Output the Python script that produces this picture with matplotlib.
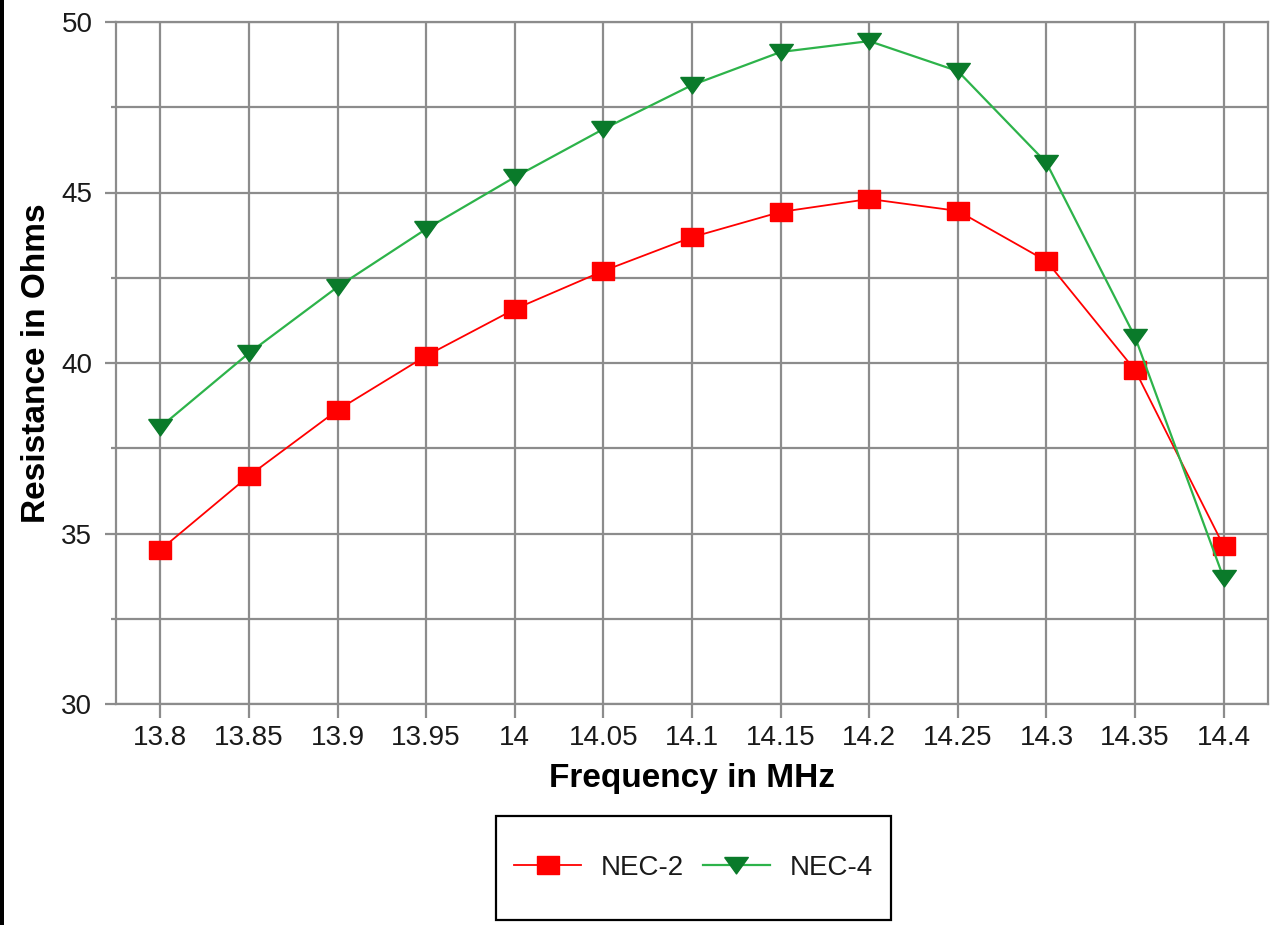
import matplotlib
matplotlib.use("Agg")
import matplotlib.pyplot as plt
from matplotlib.patches import Rectangle
from matplotlib.ticker import MultipleLocator, FixedLocator, NullFormatter

categories = ["13.8", "13.85", "13.9", "13.95", "14", "14.05", "14.1",
              "14.15", "14.2", "14.25", "14.3", "14.35", "14.4"]
nec2 = [34.52, 36.69, 38.62, 40.21, 41.58, 42.70, 43.69, 44.43, 44.81,
        44.46, 42.99, 39.79, 34.63]
nec4 = [38.12, 40.29, 42.23, 43.93, 45.45, 46.86, 48.15, 49.12, 49.44,
        48.56, 45.87, 40.76, 33.69]
series_names = ["NEC-2", "NEC-4"]

plt.rcParams['font.family'] = ['Liberation Sans', 'DejaVu Sans']

W, H = 1272, 925
fig = plt.figure(figsize=(W / 100, H / 100), dpi=100)
fig.patch.set_facecolor('white')
fig.add_artist(Rectangle((0, 0), 4 / W, 1, transform=fig.transFigure,
                         facecolor='black', edgecolor='none'))

left, right, top, bottom = 116, 1268, 22, 704
ax = fig.add_axes([left / W, (H - bottom) / H, (right - left) / W, (bottom - top) / H])

grid_c = '#8c8c8c'
rect_marker = [(-1.3, -1), (1.3, -1), (1.3, 1), (-1.3, 1), (-1.3, -1)]
tri_marker = [(-1.4, 0.95), (1.4, 0.95), (0, -1.0), (-1.4, 0.95)]

x = list(range(len(categories)))
ax.plot(x, nec2, color='#ff0000', lw=1.3, marker=rect_marker, markersize=16,
        markerfacecolor='#ff0000', markeredgecolor='#ff0000', label=series_names[0], zorder=3)
ax.plot(x, nec4, color='#2db34a', lw=1.6, marker=tri_marker, markersize=17,
        markerfacecolor='#0a7a2a', markeredgecolor='#0a7a2a', label=series_names[1], zorder=3)

ax.set_xlim(-0.5, len(categories) - 0.5)
ax.set_ylim(30, 50)
ax.set_xticks(x)
ax.set_xticklabels(categories)
ax.yaxis.set_major_locator(MultipleLocator(5))
ax.yaxis.set_minor_locator(FixedLocator([32.5, 37.5, 42.5, 47.5]))
ax.yaxis.set_minor_formatter(NullFormatter())

ax.grid(True, which='both', color=grid_c, lw=1.6)
ax.set_axisbelow(True)
for s in ax.spines.values():
    s.set_color(grid_c)
    s.set_linewidth(1.6)

ax.tick_params(axis='x', which='major', length=10, width=1.6, color=grid_c,
               labelsize=20, pad=5, labelcolor='#1a1a1a')
ax.tick_params(axis='y', which='major', length=8, width=1.6, color=grid_c,
               labelsize=20, pad=9, labelcolor='#1a1a1a')
ax.tick_params(axis='y', which='minor', length=3.6, width=1.6, color=grid_c)

ax.set_xlabel("Frequency in MHz", fontsize=24, fontweight='bold', labelpad=9)
ax.set_ylabel("Resistance in Ohms", fontsize=24, fontweight='bold', labelpad=7)

# legend frame drawn separately to match the reference box
fig.add_artist(Rectangle((496 / W, (H - 920) / H), (891 - 496) / W, (920 - 816) / H,
                         transform=fig.transFigure, facecolor='white',
                         edgecolor='black', lw=1.6))
leg = fig.legend(loc='center', bbox_to_anchor=(693.5 / W, (H - 868) / H), ncol=2,
                 fontsize=20, frameon=False, handlelength=2.4,
                 handletextpad=0.7, columnspacing=0.7, borderpad=0.2,
                 borderaxespad=0, markerscale=1.0)
for t in leg.get_texts():
    t.set_color('#1a1a1a')

fig.savefig("out.png", dpi=100)
